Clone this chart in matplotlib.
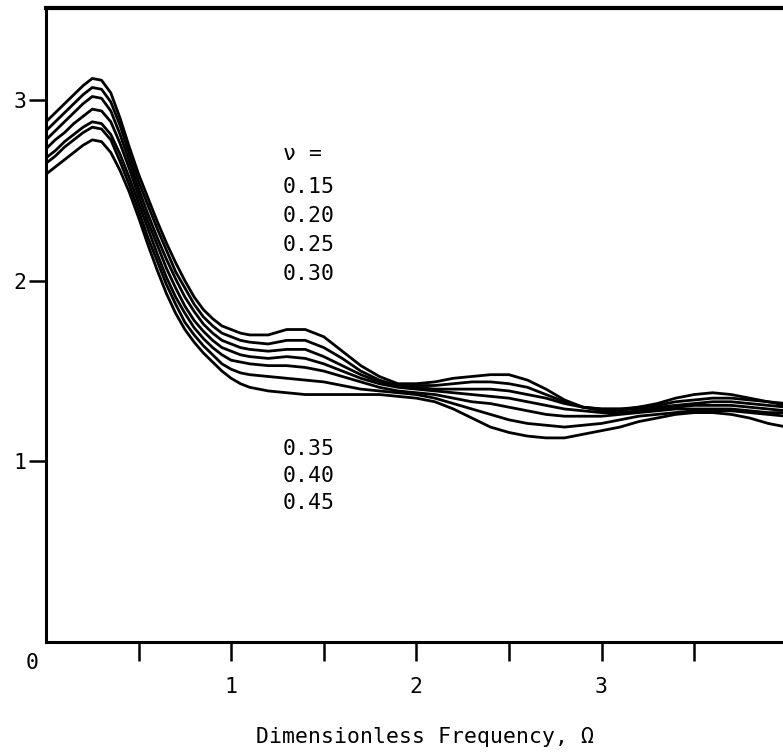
import matplotlib
matplotlib.use("Agg")
import matplotlib.pyplot as plt

# frequency samples: 0.05 steps up to 1.1 (sharp peak and knee), 0.1 after
omega = [0.0, 0.05, 0.1, 0.15, 0.2, 0.25, 0.3, 0.35, 0.4, 0.45, 0.5, 0.55,
         0.6, 0.65, 0.7, 0.75, 0.8, 0.85, 0.9, 0.95, 1.0, 1.05, 1.1,
         1.2, 1.3, 1.4, 1.5, 1.6, 1.7, 1.8, 1.9, 2.0, 2.1, 2.2, 2.3, 2.4, 2.5,
         2.6, 2.7, 2.8, 2.9, 3.0, 3.1, 3.2, 3.3, 3.4, 3.5, 3.6, 3.7, 3.8, 3.9, 4.0]

nu_015 = [2.88, 2.93, 2.98, 3.03, 3.08, 3.12, 3.11, 3.04, 2.90, 2.74, 2.59, 2.46,
          2.33, 2.21, 2.10, 2.00, 1.91, 1.84, 1.79, 1.75, 1.73, 1.71, 1.70,
          1.70, 1.73, 1.73, 1.69, 1.61, 1.53, 1.47, 1.43, 1.43, 1.44, 1.46, 1.47,
          1.48, 1.48, 1.45, 1.40, 1.34, 1.30, 1.28, 1.28, 1.30, 1.32, 1.35, 1.37,
          1.38, 1.37, 1.35, 1.33, 1.32]
nu_020 = [2.83, 2.88, 2.93, 2.98, 3.03, 3.07, 3.06, 2.99, 2.86, 2.70, 2.55, 2.42,
          2.29, 2.17, 2.05, 1.96, 1.87, 1.80, 1.75, 1.71, 1.69, 1.67, 1.66,
          1.65, 1.67, 1.67, 1.63, 1.57, 1.50, 1.45, 1.42, 1.42, 1.42, 1.43, 1.44,
          1.44, 1.43, 1.41, 1.37, 1.33, 1.30, 1.29, 1.29, 1.30, 1.31, 1.33, 1.34,
          1.35, 1.35, 1.34, 1.33, 1.31]
nu_025 = [2.78, 2.83, 2.88, 2.93, 2.98, 3.02, 3.01, 2.94, 2.81, 2.66, 2.51, 2.37,
          2.24, 2.12, 2.01, 1.91, 1.83, 1.76, 1.71, 1.67, 1.65, 1.63, 1.62,
          1.61, 1.62, 1.62, 1.58, 1.53, 1.48, 1.44, 1.42, 1.41, 1.40, 1.40, 1.40,
          1.40, 1.39, 1.37, 1.35, 1.32, 1.30, 1.29, 1.29, 1.29, 1.30, 1.31, 1.32,
          1.33, 1.33, 1.32, 1.31, 1.30]
nu_030 = [2.73, 2.78, 2.82, 2.87, 2.91, 2.95, 2.94, 2.88, 2.76, 2.62, 2.47, 2.33,
          2.20, 2.07, 1.96, 1.86, 1.78, 1.72, 1.67, 1.63, 1.61, 1.59, 1.58,
          1.57, 1.58, 1.57, 1.54, 1.50, 1.46, 1.43, 1.41, 1.40, 1.39, 1.38, 1.37,
          1.36, 1.35, 1.33, 1.31, 1.29, 1.28, 1.27, 1.27, 1.28, 1.29, 1.30, 1.31,
          1.31, 1.31, 1.30, 1.29, 1.28]
nu_035 = [2.68, 2.72, 2.77, 2.81, 2.85, 2.88, 2.87, 2.81, 2.70, 2.57, 2.43, 2.29,
          2.15, 2.02, 1.91, 1.82, 1.74, 1.68, 1.63, 1.59, 1.56, 1.55, 1.54,
          1.53, 1.53, 1.52, 1.50, 1.47, 1.44, 1.41, 1.39, 1.38, 1.37, 1.35, 1.33,
          1.32, 1.30, 1.28, 1.26, 1.25, 1.25, 1.25, 1.26, 1.27, 1.28, 1.29, 1.29,
          1.29, 1.29, 1.28, 1.27, 1.27]
nu_040 = [2.65, 2.69, 2.74, 2.78, 2.82, 2.85, 2.84, 2.78, 2.66, 2.53, 2.39, 2.24,
          2.11, 1.98, 1.87, 1.77, 1.70, 1.64, 1.59, 1.54, 1.51, 1.49, 1.48,
          1.47, 1.46, 1.45, 1.44, 1.42, 1.40, 1.39, 1.38, 1.37, 1.35, 1.32, 1.29,
          1.26, 1.23, 1.21, 1.20, 1.19, 1.20, 1.21, 1.23, 1.25, 1.26, 1.27, 1.28,
          1.28, 1.28, 1.27, 1.26, 1.25]
nu_045 = [2.59, 2.63, 2.67, 2.71, 2.75, 2.78, 2.77, 2.71, 2.61, 2.49, 2.35, 2.20,
          2.06, 1.93, 1.82, 1.73, 1.66, 1.60, 1.55, 1.50, 1.46, 1.43, 1.41,
          1.39, 1.38, 1.37, 1.37, 1.37, 1.37, 1.37, 1.36, 1.35, 1.33, 1.29, 1.24,
          1.19, 1.16, 1.14, 1.13, 1.13, 1.15, 1.17, 1.19, 1.22, 1.24, 1.26, 1.27,
          1.27, 1.26, 1.24, 1.21, 1.19]

upper_labels = ["ν =", "0.15", "0.20", "0.25", "0.30"]
upper_y = [2.70, 2.52, 2.36, 2.20, 2.04]
lower_labels = ["0.35", "0.40", "0.45"]
lower_y = [1.07, 0.92, 0.77]

xticks = [0.5, 1.0, 1.5, 2.0, 2.5, 3.0, 3.5]
xtick_labels = ["", "1", "", "2", "", "3", ""]
yticks = [1, 2, 3]

FONT = "DejaVu Sans Mono"
FS = 15.5

fig = plt.figure(figsize=(7.83, 7.55), dpi=100)
ax = fig.add_axes([46 / 783, 1 - 642 / 755, 1 - 46 / 783, (642 - 8) / 755])

for serie in (nu_015, nu_020, nu_025, nu_030, nu_035, nu_040, nu_045):
    ax.plot(omega, serie, color="black", lw=2.0,
            solid_joinstyle="round", solid_capstyle="round")

ax.set_xlim(0, 3.98)
ax.set_ylim(0, 3.51)

for s in ("left", "bottom"):
    ax.spines[s].set_linewidth(2.2)
ax.spines["top"].set_linewidth(3.0)
ax.spines["right"].set_visible(False)

ax.set_xticks(xticks)
ax.set_xticklabels(xtick_labels, fontfamily=FONT, fontsize=FS)
ax.set_yticks(yticks)
ax.set_yticklabels([str(v) for v in yticks], fontfamily=FONT, fontsize=FS)
ax.tick_params(axis="x", direction="out", length=14, width=1.8, pad=11)
ax.tick_params(axis="y", direction="out", length=12, width=1.8, pad=2)

for lab, yv in zip(upper_labels, upper_y):
    ax.text(1.28, yv, lab, fontfamily=FONT, fontsize=FS, va="center", ha="left")
for lab, yv in zip(lower_labels, lower_y):
    ax.text(1.28, yv, lab, fontfamily=FONT, fontsize=FS, va="center", ha="left")

fig.text(32 / 783, 1 - 663 / 755, "0", fontfamily=FONT, fontsize=FS,
         ha="center", va="center")
fig.text(425 / 783, 1 - 737 / 755, "Dimensionless Frequency, Ω",
         fontfamily=FONT, fontsize=FS, ha="center", va="center")

fig.savefig("out.png", dpi=100)
